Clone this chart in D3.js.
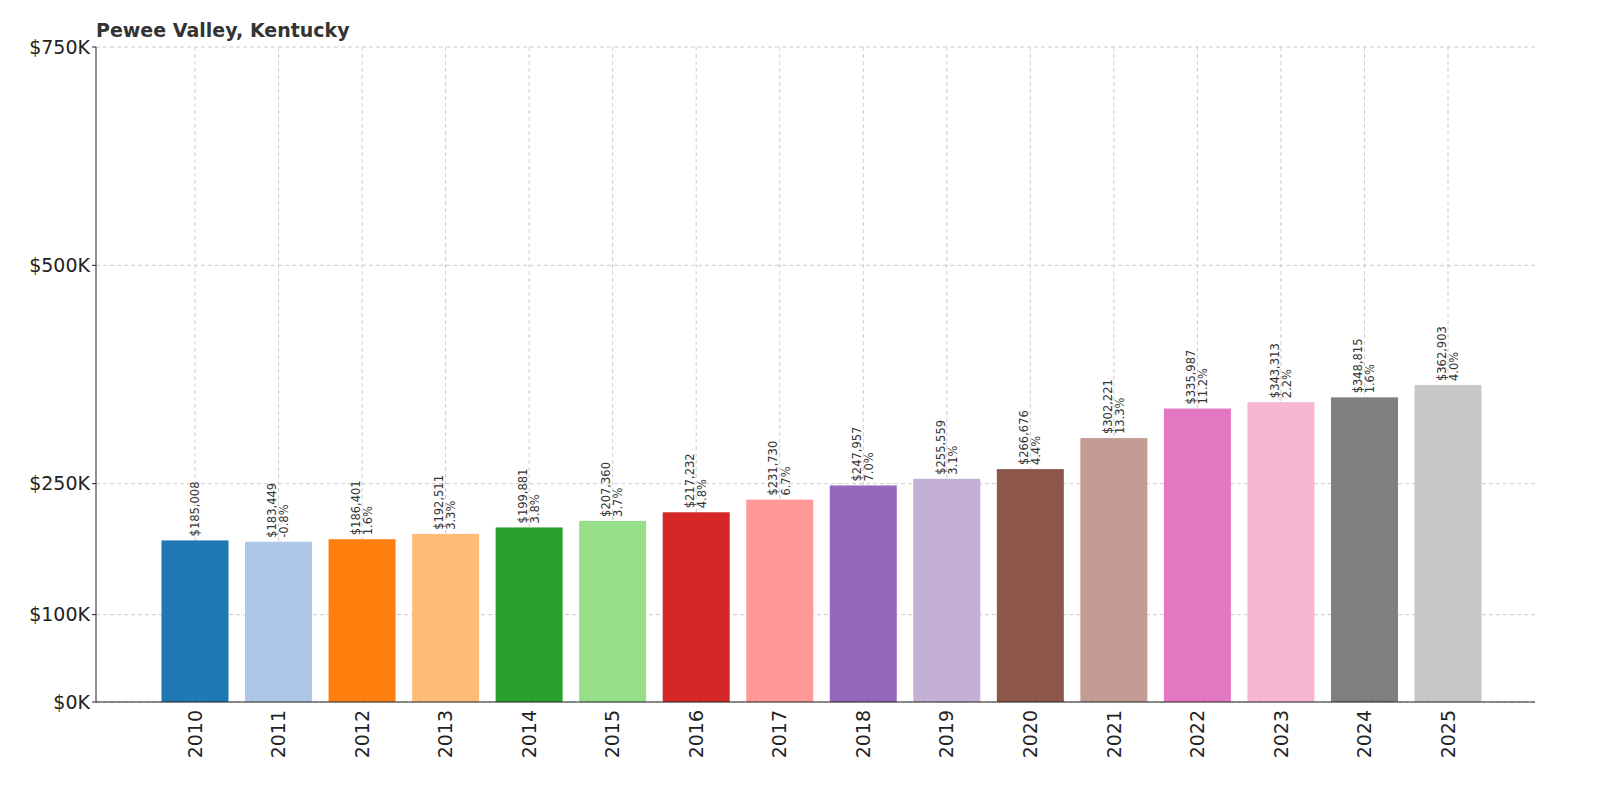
<!DOCTYPE html>
<html><head><meta charset="utf-8">
<script src="https://cdn.jsdelivr.net/npm/d3@7"></script>
<style>body{margin:0;background:#fff;font-family:"DejaVu Sans",sans-serif;overflow:hidden}svg{display:block}</style>
</head><body><svg id="c" width="1600" height="800"></svg>
<script>
var years = ["2010","2011","2012","2013","2014","2015","2016","2017","2018","2019","2020","2021","2022","2023","2024","2025"]
var values = [185008,183449,186401,192511,199881,207360,217232,231730,247957,255559,266676,302221,335987,343313,348815,362903]
var changes = ["","-0.8%","1.6%","3.3%","3.8%","3.7%","4.8%","6.7%","7.0%","3.1%","4.4%","13.3%","11.2%","2.2%","1.6%","4.0%"]
var colors = ["#1f77b4","#aec7e8","#ff7f0e","#ffbb78","#2ca02c","#98df8a","#d62728","#ff9896","#9467bd","#c5b0d5","#8c564b","#c49c94","#e377c2","#f7b6d2","#7f7f7f","#c7c7c7"]
var yTicks = [0,100000,250000,500000,750000]

var svg = d3.select("#c")
var pLeft = 96, pRight = 1535, pTop = 47, pBottom = 702

var x = d3.scaleLinear().domain([0,15]).range([195,1448])
var y = d3.scaleLinear().domain([0,750000]).range([pBottom,pTop])
var bw = 67

// grid
svg.selectAll("line.gy").data(yTicks).enter().append("line")
    .attr("x1",pLeft).attr("x2",pRight)
    .attr("y1",function(d){return y(d)}).attr("y2",function(d){return y(d)})
    .attr("stroke","#ccc").attr("stroke-dasharray","4,3")
svg.selectAll("line.gx").data(years).enter().append("line")
    .attr("x1",function(d,i){return x(i)}).attr("x2",function(d,i){return x(i)})
    .attr("y1",pTop).attr("y2",pBottom)
    .attr("stroke","#ccc").attr("stroke-dasharray","4,3")

svg.selectAll("rect").data(values).enter().append("rect")
    .attr("x",function(d,i){return x(i)-bw/2})
    .attr("y",function(d){return y(d)})
    .attr("width",bw)
    .attr("height",function(d){return pBottom-y(d)})
    .attr("fill",function(d,i){return colors[i]})

// value labels
var lab = svg.selectAll("g.lab").data(values).enter().append("g")
    .attr("transform",function(d,i){return "translate("+x(i)+","+(y(d)-4)+") rotate(-90)"})
    .style("font-size","11.5px").attr("fill","#333")
lab.append("text").attr("x",0)
    .attr("dy",function(d,i){return changes[i]?"-0.2em":"0.35em"})
    .text(function(d){return "$"+d3.format(",")(d)})
lab.append("text").attr("x",0).attr("dy","0.85em")
    .text(function(d,i){return changes[i]})

// axes
svg.append("line").attr("x1",pLeft).attr("x2",pLeft).attr("y1",pTop).attr("y2",pBottom).attr("stroke","#222")
svg.append("line").attr("x1",pLeft).attr("x2",pRight).attr("y1",pBottom).attr("y2",pBottom).attr("stroke","#222")
svg.selectAll("text.yt").data(yTicks).enter().append("text")
    .attr("x",pLeft-6).attr("y",function(d){return y(d)}).attr("dy","0.35em")
    .attr("text-anchor","end").style("font-size","19px").attr("fill","#222")
    .text(function(d){return "$"+(d/1000)+"K"})
svg.selectAll("line.yk").data(yTicks).enter().append("line")
    .attr("x1",pLeft-4).attr("x2",pLeft).attr("y1",function(d){return y(d)}).attr("y2",function(d){return y(d)}).attr("stroke","#222")
svg.selectAll("text.xt").data(years).enter().append("text")
    .attr("transform",function(d,i){return "translate("+x(i)+","+(pBottom+8)+") rotate(-90)"})
    .attr("text-anchor","end").attr("dy","0.35em").style("font-size","19px").attr("fill","#222")
    .text(function(d){return d})

svg.append("text").attr("x",96).attr("y",37).style("font-size","19px").style("font-weight","bold")
    .attr("fill","#333").text("Pewee Valley, Kentucky")
</script></body></html>
